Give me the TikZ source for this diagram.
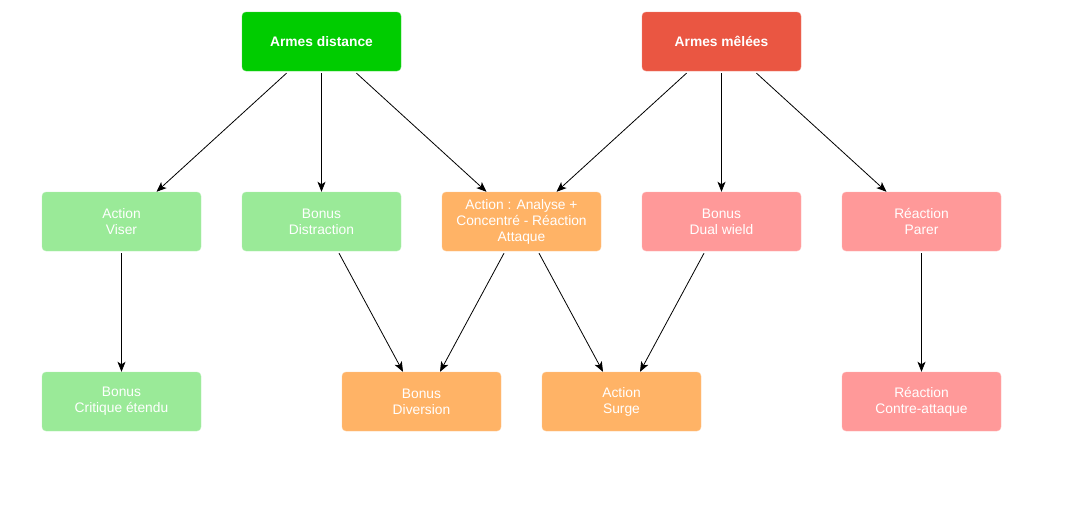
\documentclass[tikz,border=0pt]{standalone}
\usepackage{fontspec}
\setmainfont{Liberation Sans}
\usetikzlibrary{arrows.meta}
\definecolor{vert}{HTML}{00CC00}
\definecolor{vertclair}{HTML}{9AEA98}
\definecolor{rouge}{HTML}{EA5642}
\definecolor{rose}{HTML}{FF9999}
\definecolor{orange}{HTML}{FFB366}
\tikzset{
  boite/.style={rounded corners=4pt, minimum width=159pt, minimum height=59pt,
    inner sep=0pt, align=center, text=white,
    font=\fontsize{13.8}{16}\selectfont},
  fl/.style={-{Stealth[length=10pt,width=8pt,inset=2.5pt]}, line width=0.8pt}
}
\begin{document}
\begin{tikzpicture}[x=1pt, y=-1pt]
        \useasboundingbox (0, 0) rectangle (1074, 504);
        % armes
        \node [boite, fill=vert, draw=vert!70!white, font=\fontsize{13.8}{16}\selectfont\bfseries] (dist) at (321.5, 41.5) {Armes distance};
        \node [boite, fill=rouge, draw=rouge!70!white, font=\fontsize{13.8}{16}\selectfont\bfseries] (melee) at (721.5, 41.5) {Armes mêlées};
        % deuxieme rangee
        \node [boite, fill=vertclair, draw=vertclair!70!white] (viser) at (121.5, 221.5) {Action\\Viser};
        \node [boite, fill=vertclair, draw=vertclair!70!white] (distr) at (321.5, 221.5) {Bonus\\Distraction};
        \node [boite, fill=orange, draw=orange!70!white] (analyse) at (521.5, 221.5) {Action : Analyse +\\Concentré - Réaction\\Attaque};
        \node [boite, fill=rose, draw=rose!70!white] (dual) at (721.5, 221.5) {Bonus\\Dual wield};
        \node [boite, fill=rose, draw=rose!70!white] (parer) at (921.5, 221.5) {Réaction\\Parer};
        % troisieme rangee
        \node [boite, fill=vertclair, draw=vertclair!70!white] (critique) at (121.5, 401.5) {Bonus\\Critique étendu};
        \node [boite, fill=orange, draw=orange!70!white] (diversion) at (421.5, 401.5) {Bonus\\Diversion};
        \node [boite, fill=orange, draw=orange!70!white] (surge) at (621.5, 401.5) {Action\\Surge};
        \node [boite, fill=rose, draw=rose!70!white] (contre) at (921.5, 401.5) {Réaction\\Contre-attaque};
        % fleches
        \draw [fl] ([xshift=-35pt, yshift=-2pt]dist.south) -- ([xshift=35pt]viser.north);
        \draw [fl] ([yshift=-2pt]dist.south) -- (distr.north);
        \draw [fl] ([xshift=35pt, yshift=-2pt]dist.south) -- ([xshift=-35pt]analyse.north);
        \draw [fl] ([xshift=-35pt, yshift=-2pt]melee.south) -- ([xshift=35pt]analyse.north);
        \draw [fl] ([yshift=-2pt]melee.south) -- (dual.north);
        \draw [fl] ([xshift=35pt, yshift=-2pt]melee.south) -- ([xshift=-35pt]parer.north);
        \draw [fl] ([yshift=-2pt]viser.south) -- (critique.north);
        \draw [fl] ([xshift=17.5pt, yshift=-2pt]distr.south) -- ([xshift=-18.5pt]diversion.north);
        \draw [fl] ([xshift=-17.5pt, yshift=-2pt]analyse.south) -- ([xshift=18.5pt]diversion.north);
        \draw [fl] ([xshift=17.5pt, yshift=-2pt]analyse.south) -- ([xshift=-18.5pt]surge.north);
        \draw [fl] ([xshift=-17.5pt, yshift=-2pt]dual.south) -- ([xshift=18.5pt]surge.north);
        \draw [fl] ([yshift=-2pt]parer.south) -- (contre.north);
\end{tikzpicture}
\end{document}
